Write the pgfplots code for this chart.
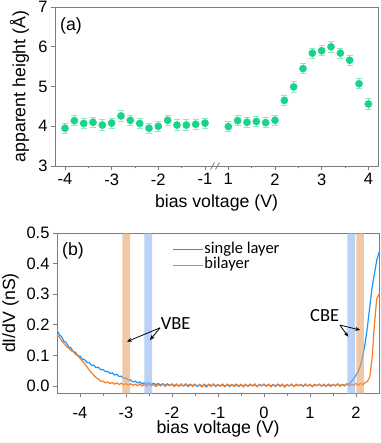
\documentclass[border=0pt]{standalone}
\usepackage{fontspec}
\setmainfont{Liberation Sans}
\newfontfamily\calfont{Carlito}
\usepackage{pgfplots}
\pgfplotsset{compat=1.18}
\usepackage{pgfplotstable}
\usetikzlibrary{arrows.meta}

\definecolor{ptgreen}{RGB}{22,212,138}
\definecolor{errgreen}{RGB}{140,232,195}
\definecolor{axgray}{RGB}{125,125,125}
\definecolor{slblue}{RGB}{25,150,255}
\definecolor{blorange}{RGB}{255,122,30}
\definecolor{bandor}{RGB}{230,163,105}
\definecolor{bandbl}{RGB}{138,180,238}

\pgfplotsset{mystyle/.style={
  scale only axis,
  axis line style={draw=axgray, line width=0.9pt},
  tick style={draw=axgray, line width=0.9pt},
  tick align=outside,
  major tick length=4pt, minor tick length=2.5pt,
  xtick pos=bottom, ytick pos=left,
  ticklabel style={font=\fontsize{16.5}{18}\selectfont, text=black},
  label style={font=\fontsize{17.7}{20}\selectfont},
  /pgf/number format/assume math mode=true,
}}

% panel (a) data
\pgfplotstableread{
x y
-4.0 3.95
-3.8 4.14
-3.6 4.07
-3.4 4.10
-3.2 4.03
-3.0 4.08
-2.8 4.26
-2.6 4.15
-2.4 4.07
-2.2 3.95
-2.0 4.00
-1.8 4.15
-1.6 4.03
-1.4 4.03
-1.2 4.05
-1.0 4.08
}\negdata
\pgfplotstableread{
x y
1.0 3.99
1.2 4.14
1.4 4.10
1.6 4.12
1.8 4.09
2.0 4.15
2.2 4.65
2.4 4.99
2.6 5.45
2.8 5.84
3.0 5.90
3.2 6.00
3.4 5.84
3.6 5.66
3.8 5.07
4.0 4.56
}\posdata

% panel (b) data
\pgfplotstableread{
x y
-4.50 0.182
-4.45 0.168
-4.40 0.161
-4.35 0.146
-4.30 0.142
-4.25 0.128
-4.20 0.125
-4.15 0.113
-4.10 0.110
-4.05 0.099
-4.00 0.098
-3.95 0.088
-3.90 0.086
-3.85 0.077
-3.80 0.076
-3.75 0.068
-3.70 0.068
-3.65 0.060
-3.60 0.061
-3.55 0.053
-3.50 0.054
-3.45 0.047
-3.40 0.048
-3.35 0.041
-3.30 0.043
-3.25 0.036
-3.20 0.038
-3.15 0.031
-3.10 0.032
-3.05 0.025
-3.00 0.026
-2.95 0.019
-2.90 0.020
-2.85 0.013
-2.80 0.016
-2.75 0.010
-2.70 0.013
-2.65 0.007
-2.60 0.011
-2.55 0.006
-2.50 0.010
-2.45 0.005
-2.40 0.009
-2.35 0.004
-2.30 0.008
-2.25 0.003
-2.20 0.007
-2.15 0.002
-2.10 0.007
-2.05 0.002
-2.00 0.006
-1.95 0.001
-1.90 0.006
-1.85 -0.001
-1.80 0.005
-1.75 0.000
-1.70 0.007
-1.65 -0.002
-1.60 0.004
-1.55 0.001
-1.50 0.006
-1.45 -0.002
-1.40 0.005
-1.35 0.000
-1.30 0.004
-1.25 -0.003
-1.20 0.006
-1.15 0.001
-1.10 0.005
-1.05 -0.002
-1.00 0.004
-0.95 0.000
-0.90 0.006
-0.85 -0.001
-0.80 0.005
-0.75 -0.002
-0.70 0.004
-0.65 0.001
-0.60 0.006
-0.55 -0.002
-0.50 0.004
-0.45 0.000
-0.40 0.005
-0.35 -0.001
-0.30 0.006
-0.25 0.000
-0.20 0.004
-0.15 -0.002
-0.10 0.005
-0.05 0.001
0.00 0.006
0.05 -0.001
0.10 0.004
0.15 0.000
0.20 0.005
0.25 -0.002
0.30 0.006
0.35 0.001
0.40 0.004
0.45 -0.001
0.50 0.005
0.55 0.000
0.60 0.006
0.65 -0.002
0.70 0.004
0.75 0.001
0.80 0.005
0.85 -0.001
0.90 0.006
0.95 0.000
1.00 0.004
1.05 -0.002
1.10 0.005
1.15 0.001
1.20 0.006
1.25 0.000
1.30 0.004
1.35 -0.001
1.40 0.006
1.45 0.001
1.50 0.005
1.55 0.000
1.60 0.007
1.65 0.001
1.70 0.005
1.75 0.002
1.80 0.007
1.85 0.006
1.90 0.014
1.95 0.024
2.00 0.036
2.05 0.047
2.10 0.068
2.15 0.100
2.20 0.140
2.25 0.195
2.30 0.260
2.35 0.322
2.40 0.366
2.45 0.410
2.50 0.437
}\single
\pgfplotstableread{
x y
-4.50 0.168
-4.45 0.160
-4.40 0.147
-4.35 0.140
-4.30 0.130
-4.25 0.124
-4.20 0.116
-4.15 0.112
-4.10 0.104
-4.05 0.099
-4.00 0.090
-3.95 0.082
-3.90 0.073
-3.85 0.063
-3.80 0.052
-3.75 0.043
-3.70 0.035
-3.65 0.027
-3.60 0.023
-3.55 0.015
-3.50 0.016
-3.45 0.010
-3.40 0.013
-3.35 0.008
-3.30 0.011
-3.25 0.006
-3.20 0.010
-3.15 0.005
-3.10 0.009
-3.05 0.004
-3.00 0.008
-2.95 0.003
-2.90 0.007
-2.85 0.002
-2.80 0.006
-2.75 0.001
-2.70 0.006
-2.65 0.000
-2.60 0.005
-2.55 -0.001
-2.50 0.006
-2.45 0.001
-2.40 0.004
-2.35 -0.002
-2.30 0.005
-2.25 0.000
-2.20 0.006
-2.15 -0.001
-2.10 0.004
-2.05 0.001
-2.00 0.006
-1.95 -0.002
-1.90 0.005
-1.85 0.000
-1.80 0.007
-1.75 -0.001
-1.70 0.004
-1.65 0.002
-1.60 0.006
-1.55 -0.002
-1.50 0.005
-1.45 0.000
-1.40 0.004
-1.35 -0.003
-1.30 0.006
-1.25 0.001
-1.20 0.004
-1.15 -0.002
-1.10 0.007
-1.05 0.000
-1.00 0.005
-0.95 -0.001
-0.90 0.004
-0.85 -0.003
-0.80 0.006
-0.75 0.001
-0.70 0.005
-0.65 -0.002
-0.60 0.004
-0.55 0.000
-0.50 0.006
-0.45 -0.003
-0.40 0.005
-0.35 -0.001
-0.30 0.004
-0.25 0.001
-0.20 0.007
-0.15 -0.002
-0.10 0.004
-0.05 0.000
0.00 0.005
0.05 -0.001
0.10 0.006
0.15 -0.003
0.20 0.004
0.25 0.001
0.30 0.005
0.35 -0.002
0.40 0.006
0.45 -0.004
0.50 0.004
0.55 0.000
0.60 0.005
0.65 -0.002
0.70 0.006
0.75 0.001
0.80 0.004
0.85 -0.001
0.90 0.005
0.95 0.000
1.00 0.006
1.05 -0.002
1.10 0.004
1.15 0.001
1.20 0.005
1.25 -0.001
1.30 0.006
1.35 0.000
1.40 0.004
1.45 -0.002
1.50 0.005
1.55 0.001
1.60 0.006
1.65 -0.001
1.70 0.004
1.75 0.000
1.80 0.006
1.85 0.001
1.90 0.005
1.95 0.002
2.00 0.008
2.05 0.003
2.10 0.009
2.15 0.004
2.20 0.011
2.25 0.015
2.30 0.030
2.35 0.090
2.40 0.200
2.45 0.285
2.50 0.300
}\bilayer

\begin{document}
\begin{tikzpicture}[x=1pt,y=1pt]
\path[use as bounding box] (0,0) rectangle (380,-443);

% ---------------- panel (a)
\begin{axis}[mystyle,
  at={(55pt,-166pt)}, anchor=south west,
  width=323pt, height=159pt,
  xmin=-4.214, xmax=2.707, ymin=3, ymax=7,
  clip=false,
  xtick={-4,-3,-2,-1,-0.5,0.5,1.5,2.5},
  xticklabels={-4,-3,-2,-1,1,2,3,4},
  minor xtick={-3.5,-2.5,-1.5,0,1,2},
  ytick={3,4,5,6,7},
  yticklabels={3,4,5,6,7},
  xlabel={bias voltage (V)},
  ylabel={apparent height (Å)},
  xlabel style={at={(axis description cs:0.5,-0.264)}, anchor=base, inner sep=0pt},
  ylabel style={at={(axis description cs:-0.08,0.5)}, anchor=south, inner sep=0pt},
]
\addplot[ptgreen, only marks, mark=*, mark size=3.6pt, mark options={fill=ptgreen, draw=none},
  error bars/.cd, y dir=both, y fixed=0.13,
  error bar style={color=errgreen, line width=0.8pt},
  error mark options={rotate=90, mark size=3pt, color=errgreen, line width=0.8pt}]
  table[x=x, y=y] {\negdata};
\addplot[ptgreen, only marks, mark=*, mark size=3.6pt, mark options={fill=ptgreen, draw=none},
  error bars/.cd, y dir=both, y fixed=0.13,
  error bar style={color=errgreen, line width=0.8pt},
  error mark options={rotate=90, mark size=3pt, color=errgreen, line width=0.8pt}]
  table[x expr=\thisrow{x}-1.5, y=y] {\posdata};
\draw[axgray, line width=0.8pt] ([xshift=-4.5pt,yshift=-3.5pt]axis cs:-0.786,3) -- ++(4pt,7pt);
\draw[axgray, line width=0.8pt] ([xshift=0.5pt,yshift=-3.5pt]axis cs:-0.786,3) -- ++(4pt,7pt);
\node[anchor=base west, inner sep=0pt, font=\fontsize{17.7}{20}\selectfont] at (axis description cs:0.0155,0.855) {(a)};
\end{axis}

% ---------------- panel (b)
\begin{axis}[mystyle,
  at={(57pt,-393pt)}, anchor=south west,
  width=322pt, height=160pt,
  xmin=-4.5, xmax=2.5, ymin=-0.023, ymax=0.5,
  xtick={-4,-3,-2,-1,0,1,2},
  xticklabels={-4,-3,-2,-1,0,1,2},
  xticklabel style={inner sep=0.5pt, yshift=-9pt},
  minor xtick={-3.5,-2.5,-1.5,-0.5,0.5,1.5},
  ytick={0,0.1,0.2,0.3,0.4,0.5},
  yticklabels={0.0,0.1,0.2,0.3,0.4,0.5},
  xlabel={bias voltage (V)},
  ylabel={dI/dV (nS)},
  xlabel style={at={(axis description cs:0.5,-0.25)}, anchor=base, inner sep=0pt},
  ylabel style={at={(axis description cs:-0.118,0.5)}, anchor=south, inner sep=0pt},
  legend style={at={(axis description cs:0.357,0.944)}, anchor=north west, draw=none, fill=none,
    inner sep=0pt, row sep=0.7pt, font=\calfont\fontsize{16.5}{18}\selectfont,
    nodes={text height=10pt, text depth=3pt, inner sep=1pt}},
  legend cell align=left,
  legend image code/.code={\draw[#1, line width=1.3pt] (0pt,0pt) -- (30pt,0pt);},
]
\addplot[slblue, line width=1.2pt] table[x=x,y=y] {\single};
\addlegendentry{single layer}
\addplot[blorange, line width=1.2pt] table[x=x,y=y] {\bilayer};
\addlegendentry{bilayer}
\addplot[forget plot, draw=none, fill=bandor, fill opacity=0.6] coordinates {(-3.08,-0.05) (-3.08,0.55) (-2.91,0.55) (-2.91,-0.05) (-3.08,-0.05)};
\addplot[forget plot, draw=none, fill=bandbl, fill opacity=0.6] coordinates {(-2.60,-0.05) (-2.60,0.55) (-2.43,0.55) (-2.43,-0.05) (-2.60,-0.05)};
\addplot[forget plot, draw=none, fill=bandbl, fill opacity=0.6] coordinates {(1.81,-0.05) (1.81,0.55) (1.98,0.55) (1.98,-0.05) (1.81,-0.05)};
\addplot[forget plot, draw=none, fill=bandor, fill opacity=0.6] coordinates {(2.01,-0.05) (2.01,0.55) (2.17,0.55) (2.17,-0.05) (2.01,-0.05)};
\node[font=\calfont\fontsize{18.5}{20}\selectfont, inner sep=0pt] at (axis cs:-1.92,0.205) {VBE};
\node[font=\calfont\fontsize{18.5}{20}\selectfont, inner sep=0pt] at (axis cs:1.32,0.229) {CBE};
\draw[-{Stealth[length=5pt,width=4pt]}, line width=0.8pt] (axis cs:-2.26,0.19) -- (axis cs:-2.98,0.145);
\draw[-{Stealth[length=5pt,width=4pt]}, line width=0.8pt] (axis cs:-2.26,0.19) -- (axis cs:-2.48,0.150);
\draw[-{Stealth[length=5pt,width=4pt]}, line width=0.8pt] (axis cs:1.65,0.199) -- (axis cs:1.83,0.161);
\draw[-{Stealth[length=5pt,width=4pt]}, line width=0.8pt] (axis cs:1.65,0.199) -- (axis cs:2.09,0.183);
\node[anchor=base west, inner sep=0pt, font=\fontsize{17.7}{20}\selectfont] at (axis description cs:0.0155,0.8625) {(b)};
\end{axis}
\end{tikzpicture}
\end{document}
